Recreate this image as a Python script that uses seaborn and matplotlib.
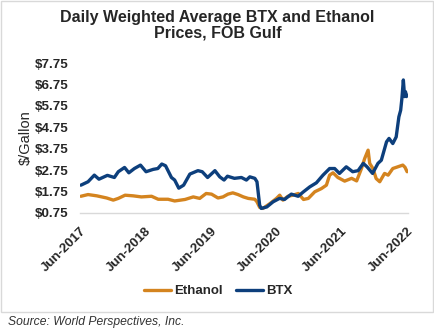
import pandas as pd
import numpy as np
import matplotlib
matplotlib.use("Agg")
import matplotlib.pyplot as plt
import matplotlib.dates as mdates
from matplotlib.patches import Rectangle
import seaborn as sns

# ---- data ----
btx_dates = ["2017-06-06", "2017-07-16", "2017-08-20", "2017-09-15", "2017-11-01", "2017-12-10",
             "2018-01-01", "2018-02-05", "2018-03-01", "2018-04-01", "2018-05-05", "2018-06-05",
             "2018-07-15", "2018-08-10", "2018-09-01", "2018-09-22", "2018-10-25", "2018-11-12",
             "2018-12-05", "2019-01-01", "2019-02-05", "2019-03-22", "2019-04-15", "2019-05-15",
             "2019-06-25", "2019-07-22", "2019-08-15", "2019-09-03", "2019-10-12", "2019-11-20",
             "2019-12-18", "2020-01-06", "2020-02-03", "2020-02-15", "2020-03-01", "2020-03-10",
             "2020-04-10", "2020-05-15", "2020-06-20", "2020-07-18", "2020-08-25", "2020-10-02",
             "2020-11-01", "2020-12-06", "2021-01-12", "2021-02-18", "2021-03-27", "2021-04-24",
             "2021-05-21", "2021-06-28", "2021-08-03", "2021-09-02", "2021-10-01", "2021-10-22",
             "2021-11-22", "2021-12-22", "2022-01-10", "2022-02-08", "2022-02-22", "2022-03-15",
             "2022-04-03", "2022-04-18", "2022-04-28", "2022-05-05", "2022-05-13", "2022-05-20",
             "2022-05-25", "2022-05-30", "2022-06-03"]
btx_prices = [2.04, 2.20, 2.51, 2.32, 2.50, 2.40,
              2.67, 2.87, 2.62, 2.82, 2.98, 2.67,
              2.78, 2.82, 3.03, 2.95, 2.40, 2.28,
              1.90, 2.04, 2.56, 2.72, 2.67, 2.40,
              2.72, 2.43, 2.28, 2.46, 2.36, 2.40,
              2.28, 2.43, 2.36, 2.20, 1.10, 0.95,
              1.02, 1.26, 1.42, 1.37, 1.62, 1.52,
              1.73, 1.96, 2.15, 2.51, 2.82, 2.82,
              2.59, 2.90, 2.67, 2.72, 3.06, 2.90,
              2.59, 3.06, 3.21, 4.07, 4.23, 3.99,
              4.30, 5.24, 5.55, 6.11, 6.97, 6.19,
              6.42, 6.19, 6.25]

eth_dates = ["2017-06-06", "2017-07-16", "2017-09-03", "2017-10-28", "2017-12-04", "2018-01-01",
             "2018-02-08", "2018-03-25", "2018-05-10", "2018-07-06", "2018-08-12", "2018-10-06",
             "2018-11-12", "2019-01-09", "2019-02-24", "2019-04-01", "2019-05-07", "2019-06-06",
             "2019-07-12", "2019-08-09", "2019-09-06", "2019-10-03", "2019-11-01", "2019-12-01",
             "2019-12-28", "2020-02-03", "2020-02-15", "2020-03-01", "2020-03-19", "2020-04-28",
             "2020-06-03", "2020-06-21", "2020-07-09", "2020-08-06", "2020-09-03", "2020-10-03",
             "2020-11-01", "2020-11-28", "2021-01-03", "2021-02-09", "2021-03-09", "2021-03-27",
             "2021-04-15", "2021-05-12", "2021-06-19", "2021-07-28", "2021-08-25", "2021-09-21",
             "2021-10-09", "2021-10-28", "2021-11-06", "2021-11-24", "2021-12-12", "2022-01-01",
             "2022-01-28", "2022-02-17", "2022-03-15", "2022-04-12", "2022-05-10", "2022-05-22",
             "2022-06-03"]
eth_prices = [1.52, 1.60, 1.54, 1.44, 1.34, 1.42,
              1.57, 1.54, 1.49, 1.52, 1.38, 1.38,
              1.30, 1.37, 1.49, 1.42, 1.65, 1.62,
              1.44, 1.49, 1.62, 1.68, 1.60, 1.49,
              1.42, 1.38, 1.26, 1.00, 0.95, 1.18,
              1.42, 1.57, 1.34, 1.52, 1.57, 1.65,
              1.37, 1.42, 1.73, 1.88, 2.04, 2.51,
              2.62, 2.40, 2.23, 2.36, 2.24, 2.82,
              3.29, 3.68, 3.06, 2.82, 2.35, 2.20,
              2.59, 2.51, 2.82, 2.90, 2.98, 2.88,
              2.67]

series_names = ["Ethanol", "BTX"]
series_colors = ["#D4841F", "#0D3F7C"]
y_ticks = [0.75, 1.75, 2.75, 3.75, 4.75, 5.75, 6.75, 7.75]
x_ticks = ["2017-06-01", "2018-06-01", "2019-06-01", "2020-06-01", "2021-06-01", "2022-06-01"]

df = pd.concat([
    pd.DataFrame({"date": pd.to_datetime(eth_dates), "price": eth_prices, "series": "Ethanol"}),
    pd.DataFrame({"date": pd.to_datetime(btx_dates), "price": btx_prices, "series": "BTX"}),
], ignore_index=True)

sns.set_theme(style="white")
plt.rcParams["font.family"] = ["Liberation Sans", "DejaVu Sans"]

fig = plt.figure(figsize=(4.35, 3.31), dpi=100)
ax = fig.add_axes([80 / 435, 1 - 212.7 / 331, (408 - 80) / 435, (212.7 - 63.3) / 331])

sns.lineplot(data=df, x="date", y="price", hue="series", hue_order=series_names,
             palette=dict(zip(series_names, series_colors)), linewidth=2.4, ax=ax)

ax.set_ylim(0.75, 7.75)
ax.set_yticks(y_ticks)
ax.set_yticklabels([f"${v:.2f}" for v in y_ticks], fontsize=9.6, fontweight="bold")
xt = pd.to_datetime(x_ticks)
ax.set_xlim(pd.Timestamp("2017-06-01"), pd.Timestamp("2022-06-08"))
ax.set_xticks(xt)
ax.set_xticklabels([d.strftime("%b-%Y") for d in xt], fontsize=9.5, fontweight="bold",
                   rotation=45, ha="right", rotation_mode="anchor")
ax.tick_params(axis="y", length=0, pad=8)
ax.tick_params(axis="x", length=0, pad=9)
ax.set_xlabel("")
ax.set_ylabel("$/Gallon", fontsize=10.5, labelpad=2)
for s in ["top", "right", "left"]:
    ax.spines[s].set_visible(False)
ax.spines["bottom"].set_color("#d9d9d9")
ax.spines["bottom"].set_linewidth(1.0)

handles, labels = ax.get_legend_handles_labels()
ax.legend(handles, labels, loc="center", bbox_to_anchor=(218 / 435, 1 - 291 / 331),
          bbox_transform=fig.transFigure, ncol=2, frameon=False,
          prop={"weight": "bold", "size": 9.5}, handlelength=2.05, handletextpad=0.25,
          columnspacing=1.0)

fig.suptitle("Daily Weighted Average BTX and Ethanol\nPrices, FOB Gulf", x=0.5, y=1 - 10 / 331,
             va="top", fontsize=11.5, fontweight="bold", linespacing=1.05)

fig.patches.append(Rectangle((1 / 435, 1 - 312 / 331), 432 / 435, 311 / 331,
                             transform=fig.transFigure, fill=False, edgecolor="#d9d9d9",
                             linewidth=1.0))
fig.text(8 / 435, 1 - 322 / 331, "Source: World Perspectives, Inc.", fontsize=8.7,
         style="italic", color="#333333", va="center", ha="left")

fig.savefig("out.png", dpi=100)
